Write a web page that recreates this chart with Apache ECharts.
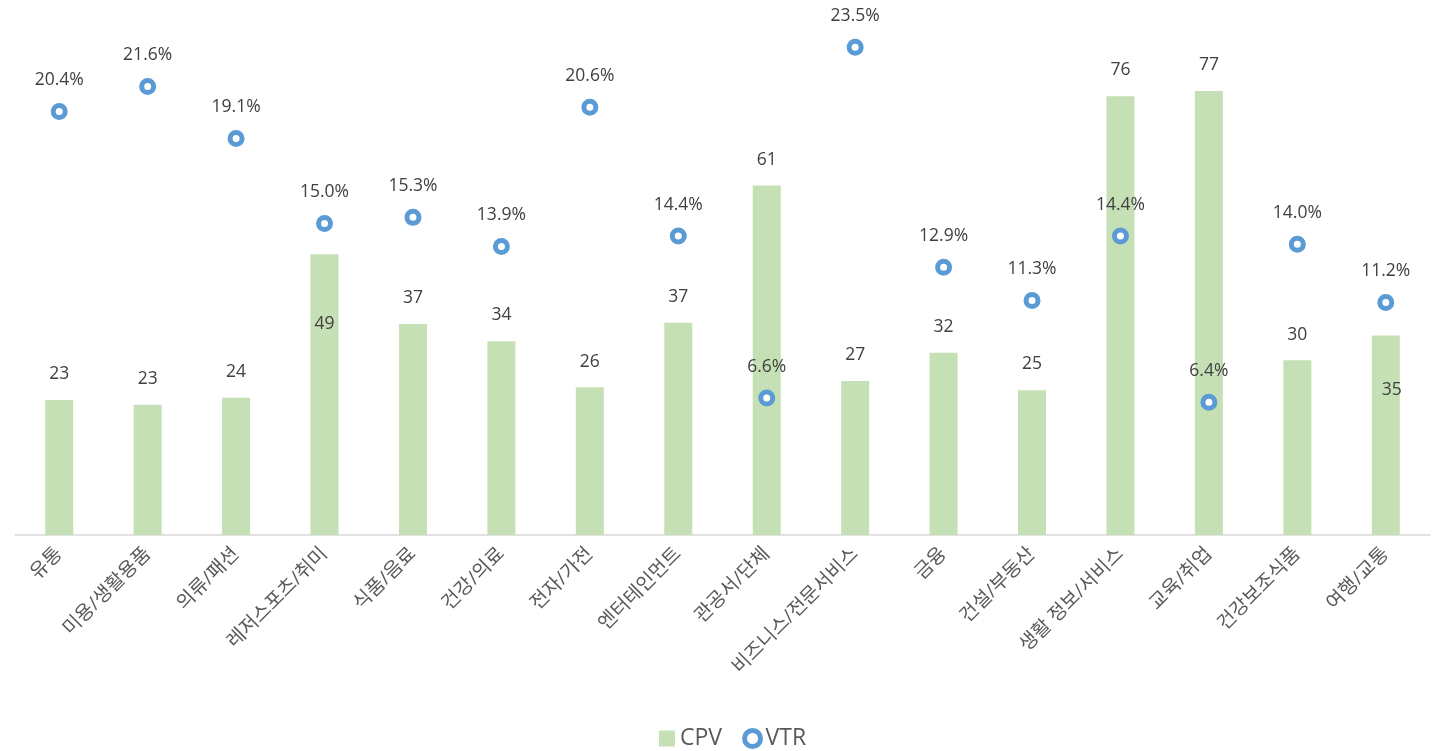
<!DOCTYPE html>
<html>
<head>
<meta charset="utf-8">
<script src="https://cdn.jsdelivr.net/npm/echarts@6/dist/echarts.min.js"></script>
<style>
  html, body { margin: 0; padding: 0; background: #fff; }
  #chart { width: 1437px; height: 751px; }
</style>
</head>
<body>
<div id="chart"></div>
<script>
const categories = ['유통', '미용/생활용품', '의류/패션', '레저스포츠/취미', '식품/음료', '건강/의료', '전자/가전', '엔터테인먼트', '관공서/단체', '비즈니스/전문서비스', '금융', '건설/부동산', '생활 정보/서비스', '교육/취업', '건강보조식품', '여행/교통'];
const cpv = [23.4, 22.6, 23.8, 48.7, 36.6, 33.6, 25.6, 36.8, 60.6, 26.7, 31.6, 25.1, 76.1, 77.0, 30.3, 34.6];
const vtr = [20.4, 21.6, 19.1, 15.0, 15.3, 13.9, 20.6, 14.4, 6.6, 23.5, 12.9, 11.3, 14.4, 6.4, 14.0, 11.2];

const FONT = "'Open Sans', 'Noto Sans CJK KR', sans-serif";
const LABEL_COLOR = '#404040';

const cpvData = cpv.map((v, i) => {
  const item = { value: v };
  if (i === 3) {
    item.label = { position: 'insideTop', distance: 61 };
  } else if (i === 15) {
    item.label = { position: 'insideTop', distance: 46, offset: [6, 0] };
  }
  return item;
});

const chart = echarts.init(document.getElementById('chart'));
chart.setOption({
  backgroundColor: '#ffffff',
  animation: false,
  textStyle: { fontFamily: FONT },
  grid: { left: 15, right: 7, top: 16, bottom: 216, containLabel: false },
  legend: {
    top: 722,
    left: 654,
    itemWidth: 16,
    itemHeight: 16,
    itemGap: 20,
    textStyle: { fontSize: 23, color: '#595959', fontFamily: FONT },
    data: [
      { name: 'CPV', icon: 'rect' },
      { name: 'VTR', icon: 'circle', itemStyle: { color: '#ffffff', borderColor: '#5B9BD5', borderWidth: 5 } }
    ]
  },
  xAxis: {
    type: 'category',
    data: categories,
    axisLine: { lineStyle: { color: '#d9d9d9', width: 1.5 } },
    axisTick: { show: false },
    axisLabel: {
      rotate: 45,
      interval: 0,
      fontSize: 19.5,
      color: '#595959',
      margin: 16,
      fontFamily: FONT
    }
  },
  yAxis: [
    { type: 'value', min: 0, max: 90, show: false, splitLine: { show: false } },
    { type: 'value', min: 0, max: 25, show: false, splitLine: { show: false } }
  ],
  series: [
    {
      name: 'CPV',
      type: 'bar',
      data: cpvData,
      barWidth: 28,
      itemStyle: { color: '#C5E0B4' },
      label: {
        show: true,
        position: 'top',
        distance: 17,
        fontSize: 17.5,
        color: LABEL_COLOR,
        fontFamily: FONT,
        formatter: p => Math.round(p.value).toString()
      }
    },
    {
      name: 'VTR',
      type: 'scatter',
      yAxisIndex: 1,
      data: vtr,
      symbol: 'circle',
      symbolSize: 12,
      itemStyle: { color: '#ffffff', borderColor: '#5B9BD5', borderWidth: 5, opacity: 1 },
      label: {
        show: true,
        position: 'top',
        distance: 14,
        fontSize: 17.5,
        color: LABEL_COLOR,
        fontFamily: FONT,
        formatter: p => p.value.toFixed(1) + '%'
      },
      z: 5
    }
  ]
});
</script>
</body>
</html>
